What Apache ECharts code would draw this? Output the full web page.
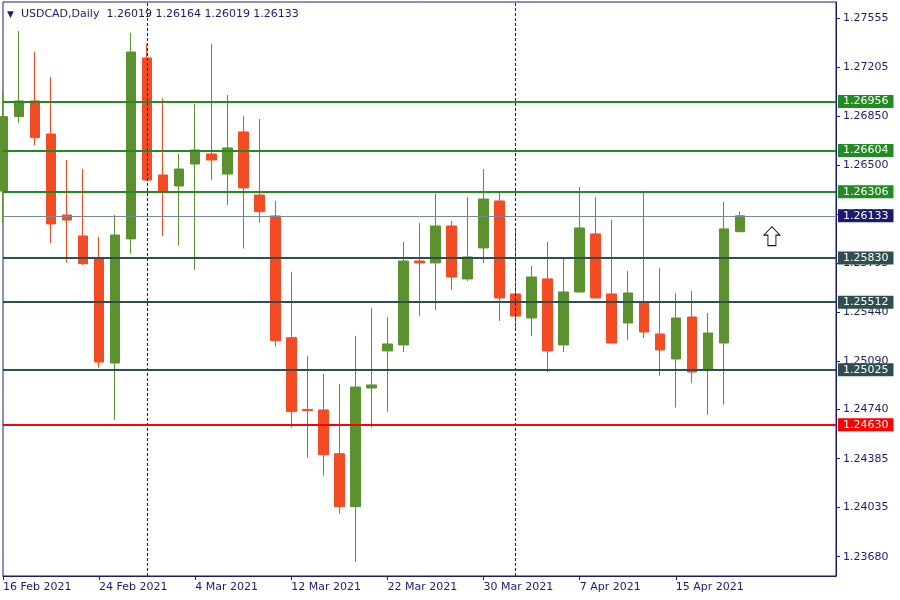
<!DOCTYPE html>
<html>
<head>
<meta charset="utf-8">
<script src="https://cdn.jsdelivr.net/npm/echarts@6/dist/echarts.min.js"></script>
<style>
html,body{margin:0;padding:0;background:#fff;}
#c{width:900px;height:600px;}
</style>
</head>
<body>
<div id="c"></div>
<script>
const symbolName = 'USDCAD,Daily';
const dates = ['16 Feb 2021','17 Feb 2021','18 Feb 2021','19 Feb 2021','22 Feb 2021','23 Feb 2021','24 Feb 2021','25 Feb 2021','26 Feb 2021',
  '1 Mar 2021','2 Mar 2021','3 Mar 2021','4 Mar 2021','5 Mar 2021','8 Mar 2021','9 Mar 2021','10 Mar 2021','11 Mar 2021','12 Mar 2021',
  '15 Mar 2021','16 Mar 2021','17 Mar 2021','18 Mar 2021','19 Mar 2021','22 Mar 2021','23 Mar 2021','24 Mar 2021','25 Mar 2021','26 Mar 2021',
  '29 Mar 2021','30 Mar 2021','31 Mar 2021','1 Apr 2021','2 Apr 2021','5 Apr 2021','6 Apr 2021','7 Apr 2021','8 Apr 2021','9 Apr 2021',
  '12 Apr 2021','13 Apr 2021','14 Apr 2021','15 Apr 2021','16 Apr 2021','19 Apr 2021','20 Apr 2021','21 Apr 2021'];
const futureSlots = ['22 Apr 2021','23 Apr 2021','26 Apr 2021','27 Apr 2021','28 Apr 2021','29 Apr 2021'];

const opens  = [1.26312,1.26847,1.26960,1.26722,1.26139,1.25988,1.25828,1.25074,1.25967,1.27269,1.26427,1.26348,1.26506,1.26578,1.26434,1.26737,1.26283,1.26132,1.25256,1.24740,1.24736,1.24421,1.24040,1.24894,1.25161,1.25204,1.25808,1.25794,1.26060,1.25679,1.25902,1.26240,1.25571,1.25398,1.25679,1.25204,1.25585,1.26003,1.25571,1.25362,1.25506,1.25283,1.25103,1.25405,1.25024,1.25218,1.26019];
const highs  = [1.27025,1.27464,1.27315,1.27133,1.26535,1.26470,1.25981,1.26139,1.27449,1.27372,1.26979,1.26578,1.26938,1.27372,1.27003,1.26852,1.26830,1.26240,1.25731,1.25127,1.24995,1.24923,1.25269,1.25470,1.25405,1.25945,1.26082,1.26291,1.26096,1.26269,1.26470,1.26305,1.26024,1.25772,1.25945,1.25830,1.26341,1.26269,1.26103,1.25736,1.26312,1.25758,1.25578,1.25592,1.25434,1.26233,1.26164];
const lows   = [1.26084,1.26804,1.26643,1.25936,1.25796,1.25780,1.25040,1.24664,1.25861,1.26388,1.25988,1.25918,1.25744,1.26391,1.26211,1.25897,1.26084,1.25192,1.24609,1.24393,1.24263,1.23990,1.23644,1.24609,1.24724,1.25153,1.25412,1.25456,1.25600,1.25664,1.25794,1.25376,1.25312,1.25269,1.25009,1.25153,1.25582,1.25540,1.25215,1.25240,1.25254,1.24981,1.24753,1.24930,1.24700,1.24774,1.26019];
const closes = [1.26847,1.26960,1.26696,1.26075,1.26103,1.25789,1.25081,1.25995,1.27312,1.26391,1.26305,1.26470,1.26607,1.26535,1.26622,1.26334,1.26163,1.25235,1.24724,1.24732,1.24414,1.24040,1.24901,1.24916,1.25211,1.25808,1.25794,1.26060,1.25693,1.25837,1.26254,1.25542,1.25412,1.25693,1.25161,1.25585,1.26046,1.25542,1.25218,1.25578,1.25297,1.25168,1.25398,1.25009,1.25290,1.26039,1.26133];

const yTickValues = [1.27555,1.27205,1.26850,1.26500,1.26145,1.25795,1.25440,1.25090,1.24740,1.24385,1.24035,1.23680];
const yMin = 1.23541, yMax = 1.27672;
const greenLevels = [1.26956,1.26604,1.26306];
const slateLevels = [1.25830,1.25512,1.25025];
const redLevels = [1.24630];
const separators = ['1 Mar 2021','1 Apr 2021'];
const arrowMarks = [[48, 1.25987]];

const NAVY = '#1b1b6e';
const GREEN = '#5b912f';
const RED = '#f34b24';
const FONT = 'DejaVu Sans';

const categories = dates.concat(futureSlots);
const ohlc = dates.map((d, i) => [opens[i], closes[i], lows[i], highs[i]]);
const n = dates.length;
const showIdx = (i) => i % 6 === 0 && i < n;

function levelLine(v, color, width, bg) {
  return {
    yAxis: v,
    lineStyle: {color: color, width: width, type: 'solid'},
    label: {
      show: true, position: 'end', distance: 2,
      formatter: () => v.toFixed(5),
      color: '#ffffff', backgroundColor: bg || color,
      fontFamily: FONT, fontSize: 11, lineHeight: 13,
      padding: [0, 5, 0, 5]
    }
  };
}

const levelData = [];
greenLevels.forEach(v => levelData.push(levelLine(v, '#228b22', 2)));
slateLevels.forEach(v => levelData.push(levelLine(v, '#2f4f4f', 2)));
redLevels.forEach(v => levelData.push(levelLine(v, '#ff0000', 2)));
levelData.push(levelLine(closes[n - 1], '#778899', 1, '#191970'));
const sepData = separators.map(s => ({
  xAxis: s,
  lineStyle: {color: NAVY, width: 1, type: [3, 2]},
  label: {show: false}
}));

const last = n - 1;
const titleText = '{t|▼}  ' + symbolName + '  ' +
  [opens[last], highs[last], lows[last], closes[last]].map(v => v.toFixed(5)).join(' ');

const chart = echarts.init(document.getElementById('c'), null, {renderer: 'canvas'});
chart.setOption({
  animation: false,
  backgroundColor: '#ffffff',
  title: {
    text: titleText,
    left: 2, top: 4,
    textStyle: {
      color: NAVY, fontFamily: FONT, fontSize: 11, fontWeight: 'normal',
      rich: {t: {fontSize: 9, color: NAVY, fontFamily: FONT}}
    }
  },
  grid: {left: 3, right: 64, top: 2, bottom: 24, show: true, borderColor: NAVY, borderWidth: 1, containLabel: false, outerBoundsMode: 'none'},
  xAxis: {
    type: 'category',
    data: categories,
    boundaryGap: false,
    axisLine: {show: true, lineStyle: {color: NAVY, width: 1}},
    axisTick: {show: true, length: 4, interval: (i) => showIdx(i), lineStyle: {color: NAVY}},
    axisLabel: {
      interval: (i) => showIdx(i),
      align: 'left', margin: 6,
      color: NAVY, fontFamily: FONT, fontSize: 11
    },
    splitLine: {show: false}
  },
  yAxis: {
    type: 'value',
    position: 'right',
    scale: true,
    min: yMin, max: yMax,
    axisLine: {show: true, lineStyle: {color: NAVY, width: 1}},
    axisTick: {show: true, length: 4, customValues: yTickValues, lineStyle: {color: NAVY}},
    axisLabel: {
      customValues: yTickValues,
      formatter: (v) => v.toFixed(5),
      margin: 7, color: NAVY, fontFamily: FONT, fontSize: 11
    },
    splitLine: {show: false}
  },
  series: [{
    type: 'line',
    data: [],
    z: 1,
    silent: true,
    markLine: {
      silent: true, precision: 5,
      symbol: ['none', 'none'],
      animation: false,
      data: sepData
    }
  }, {
    type: 'candlestick',
    data: ohlc,
    barWidth: 10,
    clip: true,
    z: 3,
    itemStyle: {
      color: GREEN, color0: RED,
      borderColor: GREEN, borderColor0: RED,
      borderWidth: 1
    }
  }, {
    type: 'line',
    data: [],
    z: 5,
    silent: true,
    markLine: {
      silent: true, precision: 5,
      symbol: ['none', 'none'],
      animation: false,
      data: levelData
    },
    markPoint: {
      silent: true,
      animation: false,
      data: arrowMarks.map(a => ({
        coord: a,
        symbol: 'path://M8,0 L16,8.5 L12,8.5 L12,19 L4,19 L4,8.5 L0,8.5 Z',
        symbolSize: [16, 19],
        itemStyle: {color: '#ffffff', borderColor: '#111111', borderWidth: 1},
        label: {show: false}
      }))
    }
  }]
});
</script>
</body>
</html>
